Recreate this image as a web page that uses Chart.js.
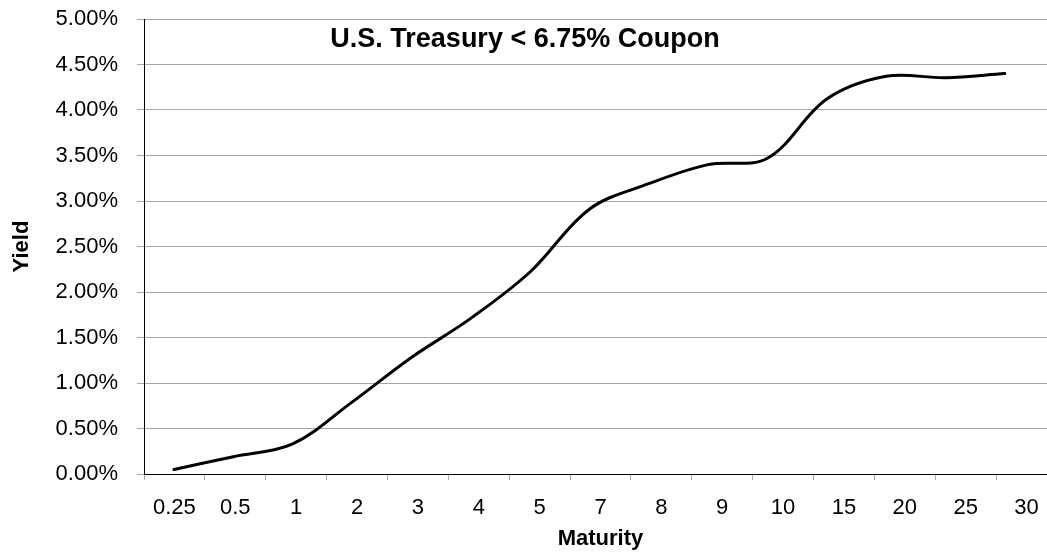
<!DOCTYPE html>
<html>
<head>
<meta charset="utf-8">
<script src="https://cdn.jsdelivr.net/npm/chart.js@4/dist/chart.umd.min.js"></script>
<style>
  html, body { margin: 0; padding: 0; background: #fff; overflow: hidden; }
  #wrap { width: 1060px; height: 552px; }
</style>
</head>
<body>
<div id="wrap"><canvas id="c" width="1060" height="552"></canvas></div>
<script>
const maturities = ['0.25', '0.5', '1', '2', '3', '4', '5', '7', '8', '9', '10', '15', '20', '25', '30'];
const yields = [0.05, 0.19, 0.33, 0.79, 1.28, 1.71, 2.22, 2.91, 3.19, 3.40, 3.47, 4.12, 4.37, 4.355, 4.40];
const yTicks = [0, 0.5, 1, 1.5, 2, 2.5, 3, 3.5, 4, 4.5, 5];
const chartTitle = 'U.S. Treasury < 6.75% Coupon';
const xTitle = 'Maturity';
const yTitle = 'Yield';

const FONT = "'Liberation Sans', Arial, sans-serif";

const innerTitle = {
  id: 'innerTitle',
  afterDraw(chart) {
    const ctx = chart.ctx;
    ctx.save();
    ctx.font = 'bold 27px ' + FONT;
    ctx.fillStyle = '#000';
    ctx.textAlign = 'center';
    ctx.textBaseline = 'alphabetic';
    ctx.fillText(chartTitle, 525, 47);
    ctx.restore();
  }
};

new Chart(document.getElementById('c'), {
  type: 'line',
  data: {
    labels: maturities,
    datasets: [{
      data: yields.map((v, i) => ({ x: i, y: v })),
      xAxisID: 'xl',
      yAxisID: 'y',
      borderColor: '#000',
      borderWidth: 3,
      borderCapStyle: 'round',
      borderJoinStyle: 'round',
      pointRadius: 0,
      fill: false,
      tension: 0.35,
      cubicInterpolationMode: 'default'
    }]
  },
  options: {
    responsive: false,
    animation: false,
    devicePixelRatio: 1,
    layout: { padding: { left: 0, right: 3, top: 19, bottom: 0 } },
    plugins: { legend: { display: false }, tooltip: { enabled: false }, title: { display: false } },
    scales: {
      x: {
        type: 'category',
        labels: maturities,
        offset: true,
        grid: { display: true, offset: true, drawOnChartArea: false, drawTicks: true, tickLength: 6, color: '#a6a6a6', lineWidth: 1 },
        border: { display: true, color: '#000', width: 1 },
        ticks: { color: '#000', font: { family: FONT, size: 22 }, padding: 15, maxRotation: 0, autoSkip: false },
        title: { display: true, text: xTitle, color: '#000', font: { family: FONT, size: 22, weight: 'bold' }, padding: { top: 0, bottom: 0 } },
        afterFit(scale) { scale.height = 78; }
      },
      xl: {
        type: 'linear',
        display: false,
        min: -0.5054,
        max: 14.880
      },
      y: {
        type: 'linear',
        min: 0,
        max: 5,
        afterBuildTicks(scale) { scale.ticks = yTicks.map(v => ({ value: v })); },
        grid: { display: true, drawTicks: true, tickLength: 7, color: '#a6a6a6', lineWidth: 1 },
        border: { display: true, color: '#000', width: 1 },
        ticks: { color: '#000', font: { family: FONT, size: 22 }, padding: 19, callback: v => Number(v).toFixed(2) + '%' },
        title: { display: true, text: yTitle, color: '#000', font: { family: FONT, size: 22, weight: 'bold' }, padding: { top: 9, bottom: 0 } },
        afterFit(scale) { scale.width = 144; scale.paddingTop = 0; scale.paddingBottom = 0; }
      }
    }
  },
  plugins: [innerTitle]
});
</script>
</body>
</html>
